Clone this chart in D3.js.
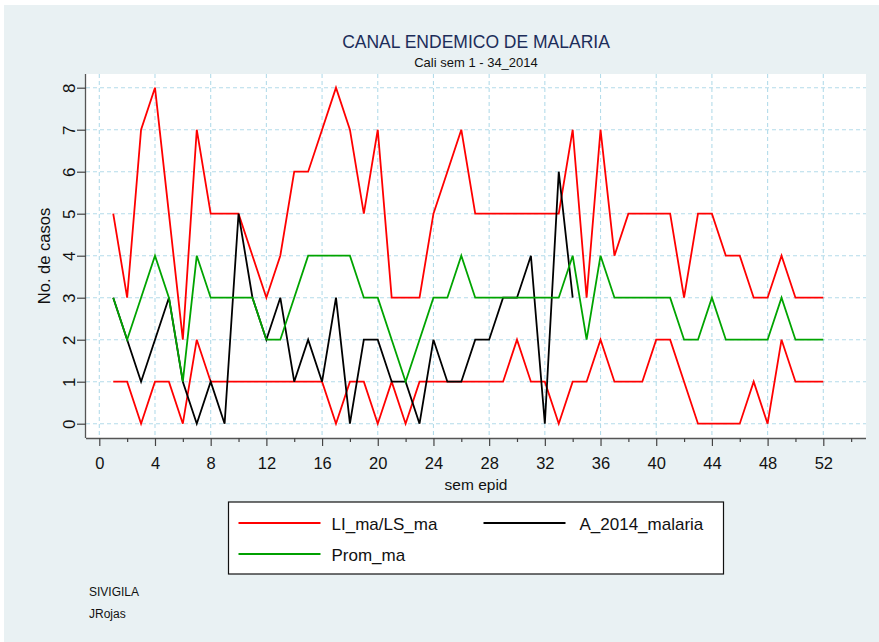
<!DOCTYPE html>
<html>
<head>
<meta charset="utf-8">
<script src="https://cdn.jsdelivr.net/npm/d3@7"></script>
<style>
  body { margin: 0; background: #fff; }
  text { font-family: "Liberation Sans", Arial, sans-serif; }
</style>
</head>
<body>
<div id="chart"></div>
<script>
let chart_width = 879;
let chart_height = 642;

//data (casos por semana epidemiologica)
let weeks = d3.range(1, 53);
let ls_ma = [5, 3, 7, 8, 5, 2, 7, 5, 5, 5, 4, 3, 4, 6, 6, 7, 8, 7, 5, 7, 3, 3, 3, 5, 6, 7,
  5, 5, 5, 5, 5, 5, 5, 7, 3, 7, 4, 5, 5, 5, 5, 3, 5, 5, 4, 4, 3, 3, 4, 3, 3, 3];
let li_ma = [1, 1, 0, 1, 1, 0, 2, 1, 1, 1, 1, 1, 1, 1, 1, 1, 0, 1, 1, 0, 1, 0, 1, 1, 1, 1,
  1, 1, 1, 2, 1, 1, 0, 1, 1, 2, 1, 1, 1, 2, 2, 1, 0, 0, 0, 0, 1, 0, 2, 1, 1, 1];
let prom_ma = [3, 2, 3, 4, 3, 1, 4, 3, 3, 3, 3, 2, 2, 3, 4, 4, 4, 4, 3, 3, 2, 1, 2, 3, 3, 4,
  3, 3, 3, 3, 3, 3, 3, 4, 2, 4, 3, 3, 3, 3, 3, 2, 2, 3, 2, 2, 2, 2, 3, 2, 2, 2];
// 2014 only goes to week 34
let a_2014 = [3, 2, 1, 2, 3, 1, 0, 1, 0, 5, 3, 2, 3, 1, 2, 1, 3, 0, 2, 2, 1, 1, 0, 2, 1, 1,
  2, 2, 3, 3, 4, 0, 6, 3];

let x_ticks = [0, 4, 8, 12, 16, 20, 24, 28, 32, 36, 40, 44, 48, 52];
let x_minor = [2, 6, 10, 14, 18, 22, 26, 30, 34, 38, 42, 46, 50, 54];
let y_ticks = [0, 1, 2, 3, 4, 5, 6, 7, 8];

let title = "CANAL ENDEMICO DE MALARIA";
let subtitle = "Cali sem 1 - 34_2014";
let legend_items = [
  { label: "LI_ma/LS_ma", color: "#ff0000", col: 0, row: 0 },
  { label: "A_2014_malaria", color: "#000000", col: 1, row: 0 },
  { label: "Prom_ma", color: "#00a000", col: 0, row: 1 },
];
let notes = ["SIVIGILA", "JRojas"];

//plot region
let plot = { left: 86, right: 866, top: 74, bottom: 438 };

let x = d3.scaleLinear().domain([0, 52]).range([99.3, 823.3]);
let y = d3.scaleLinear().domain([0, 8]).range([423.7, 87.7]);

let svg = d3
  .select("#chart")
  .append("svg")
  .attr("width", chart_width)
  .attr("height", chart_height);

//graph region background
svg
  .append("rect")
  .attr("x", 4)
  .attr("y", 5)
  .attr("width", chart_width - 4)
  .attr("height", chart_height - 5)
  .attr("fill", "#e9f1f3");

svg
  .append("rect")
  .attr("x", plot.left)
  .attr("y", plot.top)
  .attr("width", plot.right - plot.left)
  .attr("height", plot.bottom - plot.top)
  .attr("fill", "#fff");

//grid lines (light blue, dashed)
let grid = svg.append("g").attr("stroke", "#b4dcea").attr("stroke-width", 1.1).attr("stroke-dasharray", "4,3");

grid
  .selectAll("line.h")
  .data(y_ticks)
  .enter()
  .append("line")
  .attr("class", "h")
  .attr("x1", plot.left)
  .attr("x2", plot.right)
  .attr("y1", function (d) { return y(d); })
  .attr("y2", function (d) { return y(d); });

grid
  .selectAll("line.v")
  .data(x_ticks)
  .enter()
  .append("line")
  .attr("class", "v")
  .attr("y1", plot.top)
  .attr("y2", plot.bottom)
  .attr("x1", function (d) { return x(d); })
  .attr("x2", function (d) { return x(d); });

//axes
let x_axis = svg
  .append("g")
  .attr("transform", "translate(0," + plot.bottom + ")")
  .call(d3.axisBottom(x).tickValues(x_ticks).tickSize(8).tickPadding(11).tickSizeOuter(0));

svg
  .append("g")
  .attr("transform", "translate(0," + plot.bottom + ")")
  .call(d3.axisBottom(x).tickValues(x_minor).tickSize(4).tickFormat("").tickSizeOuter(0))
  .select(".domain")
  .remove();

x_axis.select(".domain").attr("d", "M" + plot.left + ",0.5H" + plot.right);

let y_axis = svg
  .append("g")
  .attr("transform", "translate(" + plot.left + ",0)")
  .call(d3.axisLeft(y).tickValues(y_ticks).tickSize(9).tickPadding(7).tickSizeOuter(0));

y_axis.select(".domain").attr("d", "M-0.5," + plot.top + "V" + plot.bottom);

svg.selectAll(".domain").attr("stroke", "#555").attr("stroke-width", 1.3);
svg.selectAll(".tick line").attr("stroke", "#444").attr("stroke-width", 1.2);
x_axis.selectAll("text").attr("font-size", 16.5).attr("fill", "#111").attr("font-family", "Liberation Sans, Arial");

//rotated y tick labels, stata style
y_axis
  .selectAll(".tick text")
  .attr("font-size", 17)
  .attr("fill", "#111")
  .attr("font-family", "Liberation Sans, Arial")
  .attr("text-anchor", "middle")
  .attr("dy", 0)
  .attr("x", 0)
  .attr("transform", "translate(-17,0) rotate(-90)")
  .attr("dominant-baseline", "central");

//lines
let line = d3
  .line()
  .x(function (d, i) { return x(weeks[i]); })
  .y(function (d) { return y(d); });

let series = [
  { values: ls_ma, color: "#ff0000" },
  { values: li_ma, color: "#ff0000" },
  { values: a_2014, color: "#000000" },
  { values: prom_ma, color: "#00a400" },
];

svg
  .selectAll("path.serie")
  .data(series)
  .enter()
  .append("path")
  .attr("class", "serie")
  .attr("d", function (d) { return line(d.values); })
  .attr("fill", "none")
  .attr("stroke", function (d) { return d.color; })
  .attr("stroke-width", 1.8)
  .attr("stroke-linejoin", "miter");

//titles
svg
  .append("text")
  .attr("x", 476)
  .attr("y", 48)
  .attr("text-anchor", "middle")
  .attr("font-size", 17.5)
  .attr("fill", "#1c2d5a")
  .text(title);

svg
  .append("text")
  .attr("x", 476)
  .attr("y", 67)
  .attr("text-anchor", "middle")
  .attr("font-size", 13)
  .attr("fill", "#111")
  .text(subtitle);

svg
  .append("text")
  .attr("x", 476)
  .attr("y", 490)
  .attr("text-anchor", "middle")
  .attr("font-size", 15.5)
  .attr("fill", "#111")
  .text("sem epid");

svg
  .append("text")
  .attr("transform", "translate(50," + (plot.top + plot.bottom) / 2 + ") rotate(-90)")
  .attr("text-anchor", "middle")
  .attr("font-size", 16.5)
  .attr("fill", "#111")
  .text("No. de casos");

//legend
let legend = svg.append("g").attr("transform", "translate(228.5,502)");

legend
  .append("rect")
  .attr("width", 495)
  .attr("height", 72)
  .attr("fill", "#fff")
  .attr("stroke", "#111")
  .attr("stroke-width", 1.2);

let items = legend
  .selectAll("g.item")
  .data(legend_items)
  .enter()
  .append("g")
  .attr("class", "item")
  .attr("transform", function (d) {
    return "translate(" + (10 + d.col * 245) + "," + (21 + d.row * 31) + ")";
  });

items
  .append("line")
  .attr("x1", 0)
  .attr("x2", 82)
  .attr("stroke", function (d) { return d.color; })
  .attr("stroke-width", 2);

items
  .append("text")
  .attr("x", function (d) { return d.col === 0 ? 93 : 96; })
  .attr("y", 6.5)
  .attr("font-size", 17)
  .attr("fill", "#111")
  .text(function (d) { return d.label; });

//notes
svg
  .selectAll("text.note")
  .data(notes)
  .enter()
  .append("text")
  .attr("class", "note")
  .attr("x", 89)
  .attr("y", function (d, i) { return 596 + i * 22; })
  .attr("font-size", 12)
  .attr("fill", "#111")
  .text(function (d) { return d; });
</script>
</body>
</html>
